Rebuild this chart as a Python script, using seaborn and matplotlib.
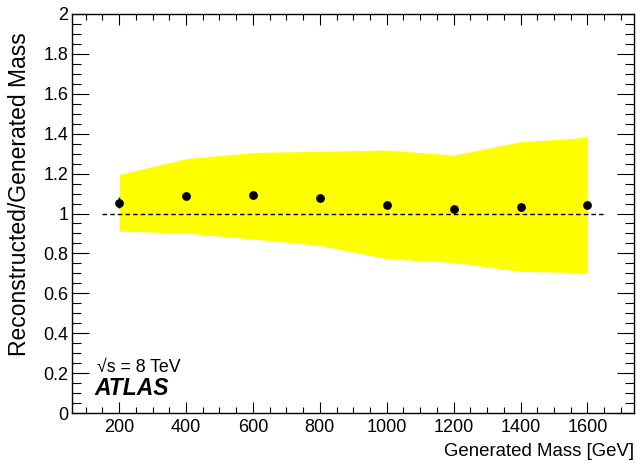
import matplotlib
matplotlib.use("Agg")
import matplotlib.pyplot as plt
from matplotlib.ticker import MultipleLocator
import seaborn as sns
import pandas as pd

# Data
mass = [200, 400, 600, 800, 1000, 1200, 1400, 1600]
ratio = [1.054, 1.089, 1.093, 1.078, 1.043, 1.023, 1.034, 1.044]
ratio_err = [0.028, 0.008, 0.008, 0.008, 0.008, 0.008, 0.008, 0.008]
band_up = [1.196, 1.275, 1.306, 1.312, 1.318, 1.293, 1.360, 1.382]
band_low = [0.912, 0.902, 0.872, 0.840, 0.773, 0.755, 0.710, 0.703]
ref_x = [150, 1650]
ref_y = [1.0, 1.0]

df = pd.DataFrame({"mass": mass, "ratio": ratio})

sns.set_theme(style="ticks")
plt.rcParams["font.family"] = ["Liberation Sans", "DejaVu Sans"]
plt.rcParams["axes.linewidth"] = 1.0
plt.rcParams["text.color"] = "black"
plt.rcParams["axes.labelcolor"] = "black"
plt.rcParams["xtick.color"] = "black"
plt.rcParams["ytick.color"] = "black"

fig = plt.figure(figsize=(6.37, 4.68), dpi=100)
ax = fig.add_axes([72.3 / 637, 1 - 413 / 468, (634.3 - 72.3) / 637, (413 - 14) / 468])

ax.fill_between(mass, band_low, band_up, color="#ffff00", linewidth=0, zorder=1)
ax.plot(ref_x, ref_y, color="black", linestyle=(0, (3.3, 2.2)), linewidth=1.0, zorder=2)
ax.errorbar(mass, ratio, yerr=ratio_err, fmt="none", ecolor="black", elinewidth=1.0, capsize=0, zorder=3)
sns.scatterplot(data=df, x="mass", y="ratio", ax=ax, color="black", s=40, edgecolor="black",
                linewidth=0, zorder=4, legend=False)

ax.set_xlim(60, 1740)
ax.set_ylim(0, 2)
ax.xaxis.set_major_locator(MultipleLocator(200))
ax.xaxis.set_minor_locator(MultipleLocator(50))
ax.yaxis.set_major_locator(MultipleLocator(0.2))
ax.yaxis.set_minor_locator(MultipleLocator(0.05))
ax.set_yticks([0, 0.2, 0.4, 0.6, 0.8, 1.0, 1.2, 1.4, 1.6, 1.8, 2.0])
ax.set_yticklabels(["0", "0.2", "0.4", "0.6", "0.8", "1", "1.2", "1.4", "1.6", "1.8", "2"])

ax.tick_params(axis="x", which="major", direction="in", length=8.1, width=0.8,
               top=True, bottom=True, labelsize=13, pad=4.3, colors="black")
ax.tick_params(axis="x", which="minor", direction="in", length=4.1, width=0.8, top=True, bottom=True)
ax.tick_params(axis="y", which="major", direction="in", length=12, width=0.8,
               left=True, right=True, labelsize=13, pad=3, colors="black")
ax.tick_params(axis="y", which="minor", direction="in", length=6.5, width=0.8, left=True, right=True)
for s in ax.spines.values():
    s.set_visible(True)
    s.set_color("black")

ax.set_xlabel("Generated Mass [GeV]", fontsize=13.4, loc="right", color="black")
ax.xaxis.set_label_coords(1.0, -0.075)
ax.set_ylabel("Reconstructed/Generated Mass", fontsize=16.5, loc="top", color="black")
ax.yaxis.set_label_coords(-0.073, 0.955)

ax.text(0.044, 0.103, "\u221As = 8 TeV", transform=ax.transAxes, fontsize=12.8,
        ha="left", va="baseline", color="black")
ax.text(0.040, 0.045, "ATLAS", transform=ax.transAxes, fontsize=16.5, fontweight="bold",
        fontstyle="italic", ha="left", va="baseline", color="black")

fig.savefig("out.png", dpi=100)
